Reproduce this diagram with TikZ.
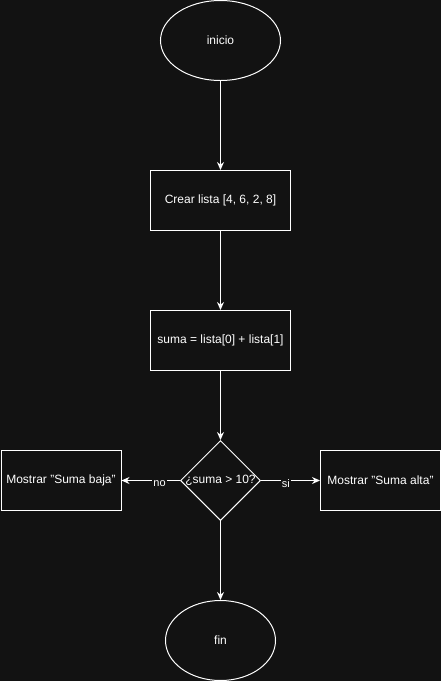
\documentclass[tikz,border=0pt]{standalone}
\usepackage{fontspec}
\setmainfont{Liberation Sans}
\usetikzlibrary{arrows.meta,positioning,shapes.geometric}
\definecolor{bgdark}{HTML}{121212}

\begin{document}
\begin{tikzpicture}[x=1pt,y=1pt,>={Stealth[length=8pt,width=7pt]},
    every node/.style={text=white,font=\fontsize{12}{14}\selectfont},
    term/.style={ellipse,draw=white,line width=1pt,minimum width=120pt,minimum height=80pt,inner sep=0pt},
    proc/.style={rectangle,draw=white,line width=1pt,minimum width=140pt,minimum height=60pt},
    cond/.style={diamond,draw=white,line width=1pt,minimum width=80pt,minimum height=80pt,inner sep=0pt},
    flow/.style={->,draw=white,line width=1pt},
    tag/.style={fill=bgdark,inner sep=1pt,font=\fontsize{11}{13}\selectfont}]
    \useasboundingbox (0,0) rectangle (441,-681);
    \fill[bgdark] (0,0) rectangle (441,-681);
    \node[term] (inicio) at (220.5,-40.5) {inicio};
    \node[proc, below=89pt of inicio] (crear) {Crear lista [4, 6, 2, 8]};
    \node[proc, below=79pt of crear] (suma) {suma = lista[0] + lista[1]};
    \node[cond, below=69pt of suma, label={center:¿suma > 10?}] (check) {};
    \node[proc, minimum width=120pt, left=58.5pt of check] (baja) {Mostrar "Suma baja"};
    \node[proc, minimum width=120pt, right=59pt of check] (alta) {Mostrar "Suma alta"};
    \node[term, minimum width=110pt, below=79pt of check] (fin) {fin};

    \draw[flow] (inicio) -- (crear);
    \draw[flow] (crear) -- (suma);
    \draw[flow] (suma) -- (check);
    \draw[flow] (check) -- node[tag,pos=0.35,yshift=-3pt]{no} (baja);
    \draw[flow] (check) -- node[tag,pos=0.42,yshift=-3pt]{si} (alta);
    \draw[flow] (check) -- (fin);
\end{tikzpicture}
\end{document}
